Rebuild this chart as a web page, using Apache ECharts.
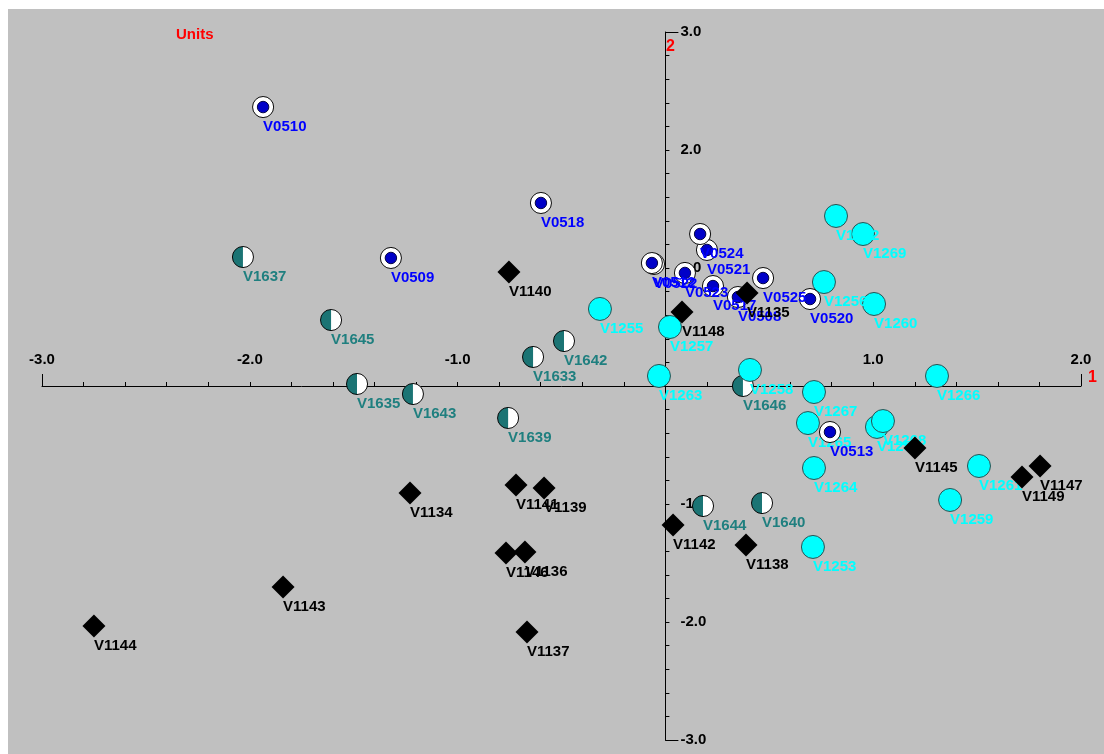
<!DOCTYPE html>
<html><head><meta charset="utf-8">
<script src="https://cdn.jsdelivr.net/npm/echarts@6/dist/echarts.min.js"></script>
<style>
html,body{margin:0;padding:0;background:#fff;width:1104px;height:754px;overflow:hidden;}
#bg{position:absolute;left:8px;top:9px;width:1096px;height:745px;background:#c0c0c0;}
#chart{position:absolute;left:0;top:0;width:1104px;height:754px;}
</style></head><body>
<div id="bg"></div><div id="chart"></div>
<script>
// ---- data ----
const xRange = [-3, 2];
const yRange = [-3, 3];
const xAxisName = '1';
const yAxisName = '2';
const unitsLabel = 'Units';

// [x, y, name]
const tealPoints = [
  [-2.033, 1.093, 'V1637'], [-1.609, 0.559, 'V1645'], [-0.488, 0.381, 'V1642'],
  [-0.637, 0.246, 'V1633'], [-1.484, 0.017, 'V1635'], [-1.215, -0.068, 'V1643'],
  [-0.757, -0.271, 'V1639'], [0.373, 0.0, 'V1646'], [0.181, -1.017, 'V1644'],
  [0.465, -0.992, 'V1640']
];
const cyanPoints = [
  [-0.315, 0.653, 'V1255'], [0.022, 0.50, 'V1257'], [-0.031, 0.085, 'V1263'],
  [0.407, 0.136, 'V1258'], [0.715, -0.051, 'V1267'], [0.686, -0.314, 'V1265'],
  [0.715, -0.695, 'V1264'], [0.710, -1.364, 'V1253'], [1.018, -0.347, 'V1254'],
  [1.047, -0.297, 'V1268'], [1.307, 0.085, 'V1266'], [1.509, -0.678, 'V1261'],
  [1.370, -0.966, 'V1259'], [0.821, 1.441, 'V1262'], [0.951, 1.288, 'V1269'],
  [0.763, 0.881, 'V1256'], [1.004, 0.695, 'V1260']
];
const bluePoints = [
  [-1.936, 2.364, 'V0510'], [-0.599, 1.551, 'V0518'], [-1.321, 1.085, 'V0509'],
  [0.200, 1.153, 'V0521'], [0.167, 1.288, 'V0524'], [-0.055, 1.034, 'V0522'],
  [-0.065, 1.042, 'V0512'], [0.094, 0.958, 'V0523'], [0.229, 0.847, 'V0517'],
  [0.349, 0.754, 'V0508'], [0.470, 0.915, 'V0525'], [0.696, 0.737, 'V0520'],
  [0.792, -0.390, 'V0513']
];
const blackPoints = [
  [-0.753, 0.966, 'V1140'], [0.080, 0.627, 'V1148'], [0.393, 0.788, 'V1135'],
  [-1.229, -0.907, 'V1134'], [-0.719, -0.839, 'V1141'], [-0.584, -0.864, 'V1139'],
  [-0.767, -1.415, 'V1146'], [-0.676, -1.407, 'V1136'], [-1.840, -1.703, 'V1143'],
  [-2.750, -2.034, 'V1144'], [-0.666, -2.085, 'V1137'], [0.037, -1.178, 'V1142'],
  [0.388, -1.347, 'V1138'], [1.201, -0.525, 'V1145'], [1.716, -0.771, 'V1149'],
  [1.803, -0.678, 'V1147']
];

// ---- styling ----
const FONT = '"Liberation Sans", Arial, sans-serif';
const W = 1104, H = 754;
const GRID = { left: 42, right: 23, top: 32, bottom: 14 };
const gridW = W - GRID.left - GRID.right;
const gridH = H - GRID.top - GRID.bottom;
// place the axes through the origin (distance from the grid's bottom / left edge)
const xAxisOffset = -gridH * (0 - yRange[0]) / (yRange[1] - yRange[0]);
const yAxisOffset = -gridW * (0 - xRange[0]) / (xRange[1] - xRange[0]);

function svgUrl(svg) { return 'image://data:image/svg+xml;charset=utf-8,' + encodeURIComponent(svg); }
const blueSym = svgUrl("<svg xmlns='http://www.w3.org/2000/svg' width='24' height='24' viewBox='0 0 24 24'>" +
  "<circle cx='12' cy='12' r='11' fill='white' stroke='black' stroke-width='1'/>" +
  "<circle cx='12' cy='12' r='6' fill='#0000c8' stroke='#000040' stroke-width='1'/></svg>");
const tealSym = svgUrl("<svg xmlns='http://www.w3.org/2000/svg' width='24' height='24' viewBox='0 0 24 24'>" +
  "<circle cx='12' cy='12' r='11' fill='white'/>" +
  "<path d='M12,1 A11,11 0 0,0 12,23 Z' fill='#1b7474'/>" +
  "<circle cx='12' cy='12' r='11' fill='none' stroke='black' stroke-width='1'/></svg>");

function lbl(color) {
  return {
    show: true, position: 'inside', align: 'left', verticalAlign: 'middle', offset: [0, 20],
    formatter: p => p.value[2], color: color, opacity: 1, fontWeight: 'bold', fontSize: 15, fontFamily: FONT
  };
}
function mkSeries(name, data, z, symbol, size, itemStyle, labelColor) {
  return {
    type: 'scatter', name: name, data: data, z: z, symbol: symbol, symbolSize: size,
    itemStyle: Object.assign({ opacity: 1 }, itemStyle), label: lbl(labelColor), silent: true, animation: false,
    emphasis: { disabled: true }, encode: { x: 0, y: 1 }
  };
}
const fmt = v => (Math.abs(v) < 1e-9 ? '' : v.toFixed(1));
const tickLabelStyle = { color: '#000', fontWeight: 'bold', fontSize: 15, fontFamily: FONT };

const chart = echarts.init(document.getElementById('chart'), null, { renderer: 'canvas' });
chart.setOption({
  animation: false,
  backgroundColor: 'transparent',
  title: { text: unitsLabel, left: 176, top: 27, padding: 0,
    textStyle: { color: '#ff0000', fontWeight: 'bold', fontSize: 15, fontFamily: FONT } },
  grid: GRID,
  xAxis: [
    { type: 'value', min: xRange[0], max: xRange[1], interval: 1, position: 'bottom', offset: xAxisOffset,
      axisLine: { show: true, onZero: false, lineStyle: { color: '#000', width: 1 } },
      axisTick: { show: true, inside: true, length: 4, lineStyle: { color: '#000' } },
      minorTick: { show: true, splitNumber: 5, length: 4, lineStyle: { color: '#000' } },
      splitLine: { show: false }, minorSplitLine: { show: false },
      axisLabel: Object.assign({ inside: true, margin: 19, formatter: fmt }, tickLabelStyle),
      name: xAxisName, nameLocation: 'end', nameGap: 7, nameMoveOverlap: false,
      nameTextStyle: { color: '#ff0000', fontWeight: 'bold', fontSize: 16, fontFamily: FONT, verticalAlign: 'bottom' } },
    { type: 'value', min: xRange[0], max: xRange[1], interval: 5, position: 'bottom', offset: xAxisOffset,
      axisLine: { show: false, onZero: false },
      axisTick: { show: true, inside: true, length: 12, lineStyle: { color: '#000' } },
      axisLabel: { show: false }, splitLine: { show: false } }
  ],
  yAxis: [
    { type: 'value', min: yRange[0], max: yRange[1], interval: 1, position: 'left', offset: yAxisOffset,
      axisLine: { show: true, onZero: false, lineStyle: { color: '#000', width: 1 } },
      axisTick: { show: true, inside: true, length: 4, lineStyle: { color: '#000' } },
      minorTick: { show: true, splitNumber: 5, length: 4, lineStyle: { color: '#000' } },
      splitLine: { show: false }, minorSplitLine: { show: false },
      axisLabel: Object.assign({ inside: true, margin: 15, formatter: fmt }, tickLabelStyle),
      name: yAxisName, nameLocation: 'end', nameGap: -15, nameMoveOverlap: false,
      nameTextStyle: { color: '#ff0000', fontWeight: 'bold', fontSize: 16, fontFamily: FONT, verticalAlign: 'middle', padding: [0, 0, 0, 10] } },
    { type: 'value', min: yRange[0], max: yRange[1], interval: 6, position: 'left', offset: yAxisOffset,
      axisLine: { show: false, onZero: false },
      axisTick: { show: true, inside: true, length: 13, lineStyle: { color: '#000' } },
      axisLabel: { show: false }, splitLine: { show: false } }
  ],
  series: [
    mkSeries('teal', tealPoints, 2, tealSym, 23, {}, '#1f7f7f'),
    mkSeries('cyan', cyanPoints, 3, 'circle', 23, { color: '#00ffff', borderColor: '#2a5050', borderWidth: 1 }, '#00ffff'),
    mkSeries('blue', bluePoints, 4, blueSym, 23, {}, '#0000ff'),
    mkSeries('black', blackPoints, 5, 'diamond', 23, { color: '#000000' }, '#000000')
  ]
});
</script>
</body></html>
